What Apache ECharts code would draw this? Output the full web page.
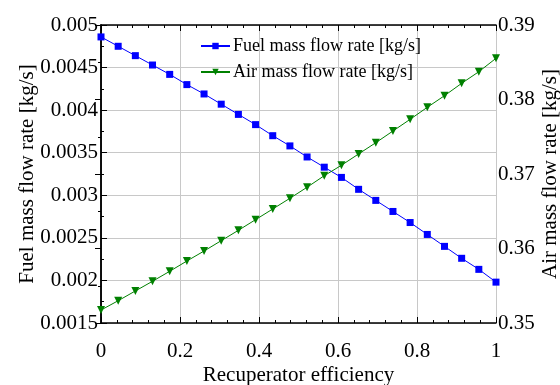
<!DOCTYPE html>
<html lang="en">
<head>
    <meta charset="UTF-8">
    <title>Recuperator</title>
    <script src="https://cdn.jsdelivr.net/npm/echarts@6/dist/echarts.min.js"></script>
    <style type="text/css">
        body{ margin:0; background:#fff; }
    </style>
</head>
<body>
<div id="main" style="width: 560px;height:385px;"></div>
<script type="text/javascript">
    // recuperator efficiency, 24 points from 0 to 1
    var effList = [];
    var fuelFlow = [0.00486, 0.00475, 0.00464, 0.00453, 0.00442, 0.00430, 0.00419, 0.00407,
        0.00395, 0.00383, 0.00370, 0.00358, 0.00345, 0.00333, 0.00321, 0.00307,
        0.00294, 0.00281, 0.00268, 0.00254, 0.00240, 0.00226, 0.00213, 0.00198];
    var airFlow = [0.35174, 0.35299, 0.35430, 0.35560, 0.35694, 0.35832, 0.35966, 0.36105,
        0.36244, 0.36387, 0.36530, 0.36674, 0.36822, 0.36977, 0.37117, 0.37269,
        0.37420, 0.37577, 0.37734, 0.37895, 0.38051, 0.38217, 0.38373, 0.38553];
    var seriesNames = ['Fuel mass flow rate [kg/s]', 'Air mass flow rate [kg/s]'];

    for (var i = 0; i < fuelFlow.length; i++) {
        effList.push(i / (fuelFlow.length - 1));
    }
    var fuelData = [], airData = [];
    for (var i = 0; i < effList.length; i++) {
        fuelData.push([effList[i], fuelFlow[i]]);
        airData.push([effList[i], airFlow[i]]);
    }

    var font = 'Liberation Serif';
    var axisLine = {show: true, lineStyle: {color: '#000', width: 1.5}};

    var myChart = echarts.init(document.getElementById('main'));
    var option = {
        animation: false,
        textStyle: {fontFamily: font},
        grid: {left: 101, right: 64, top: 25, bottom: 62, outerBoundsMode: 'none', containLabel: false},
        legend: {
            orient: 'vertical',
            left: 195,
            top: 32,
            itemWidth: 29,
            itemHeight: 8,
            itemGap: 8,
            textStyle: {fontFamily: font, fontSize: 18, color: '#000', padding: [0, 0, 0, -2]},
            data: seriesNames
        },
        xAxis: [{
            type: 'value',
            min: 0, max: 1, interval: 0.2,
            name: 'Recuperator efficiency',
            nameLocation: 'middle',
            nameGap: 42,
            nameMoveOverlap: false,
            nameTextStyle: {fontFamily: font, fontSize: 21, color: '#000'},
            axisLine: axisLine,
            axisTick: {inside: true, length: 6, lineStyle: {color: '#000'}},
            minorTick: {show: true, splitNumber: 5, length: 3, lineStyle: {color: '#000'}},
            axisLabel: {fontFamily: font, fontSize: 21, color: '#000', margin: 18},
            splitLine: {show: true, lineStyle: {color: '#c8c8c8', width: 1}}
        }, {
            type: 'value',
            position: 'top',
            min: 0, max: 1, interval: 0.2,
            axisLine: axisLine,
            axisTick: {inside: true, length: 6, lineStyle: {color: '#000'}},
            minorTick: {show: true, splitNumber: 5, length: 3, lineStyle: {color: '#000'}},
            axisLabel: {show: false},
            splitLine: {show: false}
        }],
        yAxis: [{
            type: 'value',
            min: 0.0015, max: 0.005, interval: 0.0005,
            name: 'Fuel mass flow rate [kg/s]',
            nameLocation: 'middle',
            nameGap: 63,
            nameRotate: 90,
            nameMoveOverlap: false,
            nameTextStyle: {fontFamily: font, fontSize: 21, color: '#000'},
            axisLine: axisLine,
            axisTick: {inside: true, length: 6, lineStyle: {color: '#000'}},
            minorTick: {show: true, splitNumber: 2, length: 3, lineStyle: {color: '#000'}},
            axisLabel: {
                fontFamily: font, fontSize: 21, color: '#000', margin: 3,
                formatter: function (v) { return String(parseFloat(v.toFixed(4))); }
            },
            splitLine: {show: true, lineStyle: {color: '#c8c8c8', width: 1}}
        }, {
            type: 'value',
            position: 'right',
            min: 0.35, max: 0.39, interval: 0.01,
            name: 'Air mass flow rate [kg/s]',
            nameLocation: 'middle',
            nameGap: 44,
            nameRotate: 90,
            nameMoveOverlap: false,
            nameTextStyle: {fontFamily: font, fontSize: 21, color: '#000'},
            axisLine: axisLine,
            axisTick: {inside: true, length: 6, lineStyle: {color: '#000'}},
            minorTick: {show: true, splitNumber: 2, length: 3, lineStyle: {color: '#000'}},
            axisLabel: {
                fontFamily: font, fontSize: 21, color: '#000', margin: 2,
                formatter: function (v) { return String(parseFloat(v.toFixed(2))); }
            },
            splitLine: {show: false}
        }],
        series: [{
            type: 'line',
            name: seriesNames[0],
            xAxisIndex: 0,
            yAxisIndex: 0,
            data: fuelData,
            symbol: 'rect',
            symbolSize: 7,
            color: '#0000ff',
            lineStyle: {width: 1, color: '#0000ff'},
            itemStyle: {color: '#0000ff'}
        }, {
            type: 'line',
            name: seriesNames[1],
            xAxisIndex: 0,
            yAxisIndex: 1,
            data: airData,
            symbol: 'triangle',
            symbolRotate: 180,
            symbolSize: 8,
            color: '#008000',
            lineStyle: {width: 1, color: '#008000'},
            itemStyle: {color: '#008000'}
        }]
    };
    myChart.setOption(option);
</script>
</body>
</html>
